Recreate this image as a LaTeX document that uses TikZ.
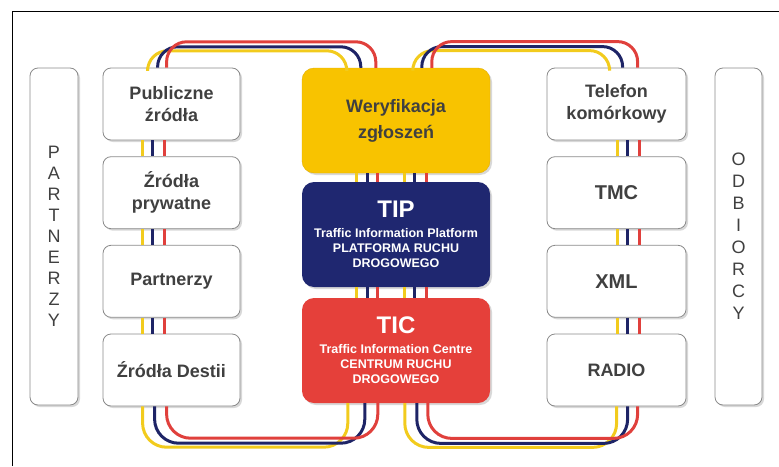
\documentclass[tikz,border=0pt]{standalone}
\usepackage{fontspec}
\setmainfont{Liberation Sans}
\usetikzlibrary{shadows}
\definecolor{cabY}{HTML}{F2CB1D}
\definecolor{cabN}{HTML}{1E2466}
\definecolor{cabR}{HTML}{E0403C}
\definecolor{txt}{HTML}{404040}
\definecolor{boxline}{HTML}{8A8A8A}
\definecolor{wery}{HTML}{F8C300}
\definecolor{weryline}{HTML}{E2AE00}
\definecolor{tipc}{HTML}{1F2770}
\definecolor{ticc}{HTML}{E5403A}

\begin{document}
\begin{tikzpicture}[x=1pt,y=-1pt,
  box/.style={draw=boxline,fill=white,rounded corners=8pt,line width=0.8pt,
    minimum width=137pt,minimum height=72pt,align=center,text=txt,
    font=\fontsize{18}{22}\selectfont\bfseries,
    drop shadow={shadow xshift=2pt,shadow yshift=-2pt,fill=black!30,opacity=.5}},
  side/.style={box,minimum width=48pt,minimum height=337pt,
    font=\fontsize{18}{21}\selectfont},
  big/.style={rounded corners=12pt,minimum width=188pt,minimum height=105pt,
    align=center,font=\fontsize{12.5}{15}\selectfont\bfseries,
    drop shadow={shadow xshift=2pt,shadow yshift=-2pt,fill=black!30,opacity=.5}},
  wire/.style={line width=3pt}]
  \useasboundingbox (0,0) rectangle (779,466);
  \draw[line width=1pt] (12,466) -- (12,11) -- (779,11);

  \node[side] (partnerzy) at (54,236.5) {P\\A\\R\\T\\N\\E\\R\\Z\\Y};
  \node[box] (publ) at (171.5,104) {Publiczne\\źródła};
  \node[box] (pryw) at (171.5,192.7) {Źródła\\prywatne};
  \node[box] (partn) at (171.5,281.3) {Partnerzy};
  \node[box] (destii) at (171.5,370) {Źródła Destii};

  \node[big,fill=wery,draw=weryline,text=txt,font=\fontsize{18}{26}\selectfont\bfseries]
    (wer) at (396,120.5) {Weryfikacja\\zgłoszeń};
  \node[big,fill=tipc,text=white] (tip) at (396,234.5)
    {{\fontsize{24}{24}\selectfont TIP}\\[5pt]Traffic Information Platform\\PLATFORMA RUCHU\\DROGOWEGO};
  \node[big,fill=ticc,text=white] (tic) at (396,350.5)
    {{\fontsize{24}{24}\selectfont TIC}\\[5pt]Traffic Information Centre\\CENTRUM RUCHU\\DROGOWEGO};

  \node[box,minimum width=139pt] (tel) at (616.5,104) {Telefon\\komórkowy};
  \node[box,minimum width=139pt,font=\fontsize{20}{22}\selectfont\bfseries] (tmc) at (616.5,192.7) {TMC};
  \node[box,minimum width=139pt,font=\fontsize{20}{22}\selectfont\bfseries] (xml) at (616.5,281.3) {XML};
  \node[box,minimum width=139pt] (radio) at (616.5,370) {RADIO};
  \node[side,minimum width=47pt,font=\fontsize{18}{22}\selectfont] (odbiorcy) at (738.5,236.5) {O\\D\\B\\I\\O\\R\\C\\Y};

  \foreach \a/\b in {publ/pryw,pryw/partn,partn/destii}
    \foreach \dx/\c in {40/cabY,50/cabN,62/cabR}
      \draw[wire,\c] ([xshift=\dx]\a.south west) -- ([xshift=\dx]\b.north west);
  \foreach \a/\b in {tel/tmc,tmc/xml,xml/radio}
    \foreach \dx/\c in {71/cabY,81/cabN,93/cabR}
      \draw[wire,\c] ([xshift=\dx]\a.south west) -- ([xshift=\dx]\b.north west);
  \foreach \a/\b in {wer/tip,tip/tic}
    \foreach \dx/\c in {55/cabY,66/cabN,76/cabR,103/cabY,113/cabN,125/cabR}
      \draw[wire,\c] ([xshift=\dx]\a.south west) -- ([xshift=\dx]\b.north west);

  \foreach \c/\p/\h/\q in {cabY/45/17/45,cabN/55/21/59,cabR/64/26/74}
    \draw[wire,\c,rounded corners=20pt] ([xshift=\p]publ.north west)
      |- ([xshift=\q,yshift=\h]wer.north west) -- ([xshift=\q]wer.north west);
  \foreach \c/\p/\h/\q in {cabY/111/17/63,cabN/120/21/76,cabR/130/26/91}
    \draw[wire,\c,rounded corners=20pt] ([xshift=\p]wer.north west)
      |- ([xshift=\q,yshift=\h]tel.north west) -- ([xshift=\q]tel.north west);
  \foreach \c/\p/\h/\q in {cabY/40/-44/46,cabN/52/-40/63,cabR/64/-35/76}
    \draw[wire,\c,rounded corners=24pt] ([xshift=\p]destii.south west)
      |- ([xshift=\q,yshift=\h]tic.south west) -- ([xshift=\q]tic.south west);
  \foreach \c/\p/\h/\q in {cabY/103/-41/70,cabN/115/-37/81,cabR/126/-32/91}
    \draw[wire,\c,rounded corners=24pt] ([xshift=\p]tic.south west)
      |- ([xshift=\q,yshift=\h]radio.south west) -- ([xshift=\q]radio.south west);
\end{tikzpicture}
\end{document}
